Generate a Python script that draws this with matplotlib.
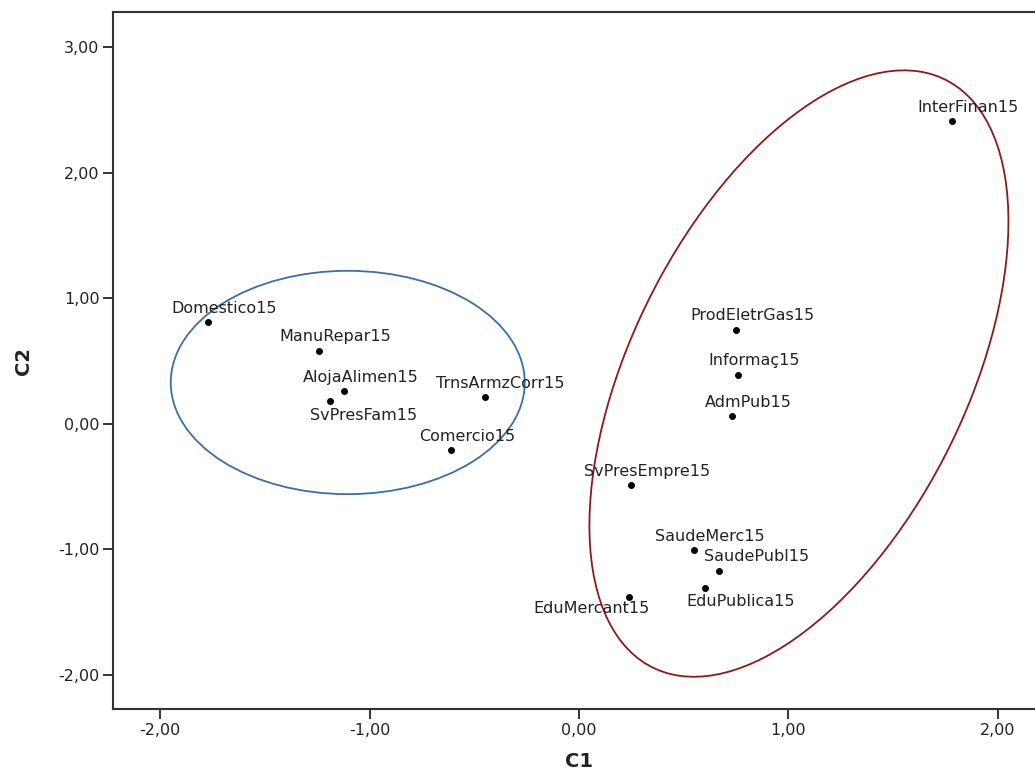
#!/usr/bin/env python3
# -*- coding: utf-8 -*-
"""
Mapa de componentes C1 x C2 dos setores (2015)
"""

import numpy as np
import matplotlib
matplotlib.use('Agg')
import matplotlib.pyplot as plt
from matplotlib.patches import Ellipse
from matplotlib.ticker import FuncFormatter

plt.rcParams['font.family'] = ['DejaVu Sans']

# dados
setores = ['Domestico15', 'ManuRepar15', 'AlojaAlimen15', 'SvPresFam15',
           'TrnsArmzCorr15', 'Comercio15', 'InterFinan15', 'ProdEletrGas15',
           'Informaç15', 'AdmPub15', 'SvPresEmpre15', 'SaudeMerc15',
           'SaudePubl15', 'EduPublica15', 'EduMercant15']
c1 = [-1.77, -1.24, -1.12, -1.19, -0.45, -0.61, 1.78, 0.75,
      0.76, 0.73, 0.25, 0.55, 0.67, 0.60, 0.24]
c2 = [0.81, 0.58, 0.26, 0.18, 0.21, -0.21, 2.41, 0.75,
      0.39, 0.06, -0.49, -1.01, -1.17, -1.31, -1.38]
xticks = [-2.0, -1.0, 0.0, 1.0, 2.0]
yticks = [-2.0, -1.0, 0.0, 1.0, 2.0, 3.0]

# posicao dos rotulos (pixels em relacao ao ponto)
offPadrao = (16, 14)
offEspecial = {'SvPresFam15': (34, -14), 'SaudePubl15': (37, 14),
               'EduPublica15': (36, -13), 'EduMercant15': (-38, -12)}

# elipses dos grupos (centro, largura, altura, angulo)
grupoA = ((-1.104, 0.329), 1.69, 1.78, 0.0)
grupoB = ((1.05, 0.40), 4.95, 1.69, 76.7)

corTexto = '#222222'
corEixo = '#333333'

fig = plt.figure(figsize=(10.35, 7.75), dpi=100)
ax = fig.add_axes([0.1095, 0.0852, 0.8992, 0.8989])

ax.plot(c1, c2, 'o', color='black', markersize=4, zorder=3)

for nome, x, y in zip(setores, c1, c2):
    dx, dy = offEspecial.get(nome, offPadrao)
    ax.annotate(nome, (x, y), xytext=(dx*0.72, dy*0.72),
                textcoords='offset points', ha='center', va='center',
                fontsize=11.5, color=corTexto)

for (cen, w, h, ang), cor in [(grupoA, '#3b6ea5'), (grupoB, '#8b1a1a')]:
    ax.add_patch(Ellipse(cen, w, h, angle=ang, fill=False,
                         edgecolor=cor, linewidth=1.3, zorder=2))

ax.set_xlim(-2.223, 2.22)
ax.set_ylim(-2.273, 3.279)
ax.set_xticks(xticks)
ax.set_yticks(yticks)
fmt = FuncFormatter(lambda v, pos: ('%.2f' % v).replace('.', ','))
ax.xaxis.set_major_formatter(fmt)
ax.yaxis.set_major_formatter(fmt)
ax.tick_params(direction='out', length=7, width=1.4, color=corEixo,
               labelsize=11.5, labelcolor=corTexto, pad=3)

for lado in ['left', 'bottom', 'top']:
    ax.spines[lado].set_linewidth(1.5)
    ax.spines[lado].set_color(corEixo)
ax.spines['right'].set_visible(False)

ax.set_xlabel('C1', fontsize=14, fontweight='bold', color=corTexto, labelpad=10)
ax.set_ylabel('C2', fontsize=14, fontweight='bold', color=corTexto, labelpad=18)

fig.savefig('out.png', dpi=100)
